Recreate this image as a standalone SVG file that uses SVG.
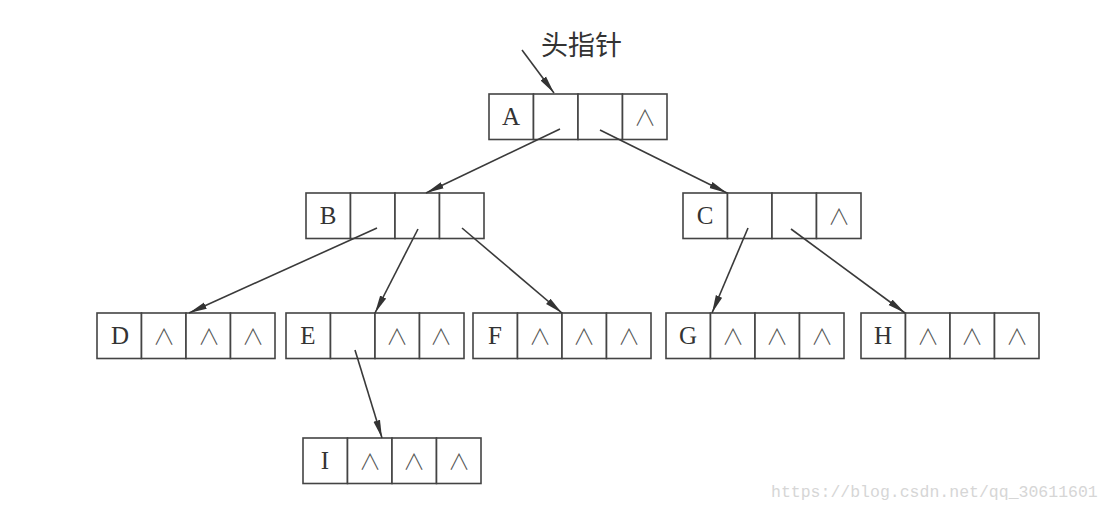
<svg xmlns="http://www.w3.org/2000/svg" width="1112" height="511" viewBox="0 0 1112 511">
<style>
.cell{fill:#fff;stroke:#444;stroke-width:1.6}
.lbl{font-family:"Liberation Serif",serif;font-size:25px;fill:#333;text-anchor:middle}
.nil{font-family:"Noto Sans CJK SC",sans-serif;font-size:22px;fill:#555;text-anchor:middle;font-weight:300}
.edge{stroke:#3a3a3a;stroke-width:1.6;fill:none;marker-end:url(#ah)}
.wm{font-family:"Liberation Mono",monospace;font-size:16.5px;fill:#d6d6d6}
.title{font-family:"Noto Sans CJK SC",sans-serif;font-size:27px;fill:#333}
</style>
<defs>
<marker id="ah" viewBox="0 0 18 8" refX="18" refY="4" markerWidth="18" markerHeight="8" markerUnits="userSpaceOnUse" orient="auto">
<path d="M0,0.6 L18,4 L0,7.4 Z" fill="#333"/>
</marker>
<g id="node4">
<rect class="cell" x="0" y="0" width="44.5" height="45.5"/>
<rect class="cell" x="44.5" y="0" width="44.5" height="45.5"/>
<rect class="cell" x="89" y="0" width="44.5" height="45.5"/>
<rect class="cell" x="133.5" y="0" width="44.5" height="45.5"/>
</g>
</defs>
<rect width="1112" height="511" fill="#fff"/>
<text class="title" x="541" y="55">头指针</text>
<g id="nodeA"><use href="#node4" x="489" y="94"/><text class="lbl" x="511" y="125">A</text><text class="nil" x="645" y="125">∧</text></g>
<g id="nodeB"><use href="#node4" x="306" y="193"/><text class="lbl" x="328" y="224">B</text></g>
<g id="nodeC"><use href="#node4" x="683" y="193"/><text class="lbl" x="705" y="224">C</text><text class="nil" x="839" y="224">∧</text></g>
<g id="nodeD"><use href="#node4" x="97" y="313"/><text class="lbl" x="120" y="344">D</text><text class="nil" x="164" y="344">∧</text><text class="nil" x="209" y="344">∧</text><text class="nil" x="253" y="344">∧</text></g>
<g id="nodeE"><use href="#node4" x="286" y="313"/><text class="lbl" x="308" y="344">E</text><text class="nil" x="397" y="344">∧</text><text class="nil" x="441" y="344">∧</text></g>
<g id="nodeF"><use href="#node4" x="473" y="313"/><text class="lbl" x="495" y="344">F</text><text class="nil" x="540" y="344">∧</text><text class="nil" x="584" y="344">∧</text><text class="nil" x="629" y="344">∧</text></g>
<g id="nodeG"><use href="#node4" x="666" y="313"/><text class="lbl" x="688" y="344">G</text><text class="nil" x="733" y="344">∧</text><text class="nil" x="777" y="344">∧</text><text class="nil" x="822" y="344">∧</text></g>
<g id="nodeH"><use href="#node4" x="861" y="313"/><text class="lbl" x="883" y="344">H</text><text class="nil" x="928" y="344">∧</text><text class="nil" x="972" y="344">∧</text><text class="nil" x="1017" y="344">∧</text></g>
<g id="nodeI"><use href="#node4" x="303" y="438"/><text class="lbl" x="325" y="469">I</text><text class="nil" x="370" y="469">∧</text><text class="nil" x="414" y="469">∧</text><text class="nil" x="459" y="469">∧</text></g>
<g id="connectors">
<line class="edge" x1="522" y1="50" x2="554" y2="93"/>
<line class="edge" x1="560" y1="129" x2="426" y2="193"/>
<line class="edge" x1="600" y1="130" x2="727" y2="193"/>
<line class="edge" x1="377" y1="228" x2="189" y2="313"/>
<line class="edge" x1="418" y1="229" x2="375" y2="313"/>
<line class="edge" x1="462" y1="228" x2="562" y2="313"/>
<line class="edge" x1="748" y1="228" x2="712" y2="313"/>
<line class="edge" x1="791" y1="229" x2="905" y2="313"/>
<line class="edge" x1="355" y1="350" x2="382" y2="438"/>
</g>
<text class="wm" x="771" y="497">https://blog.csdn.net/qq_30611601</text>
</svg>
